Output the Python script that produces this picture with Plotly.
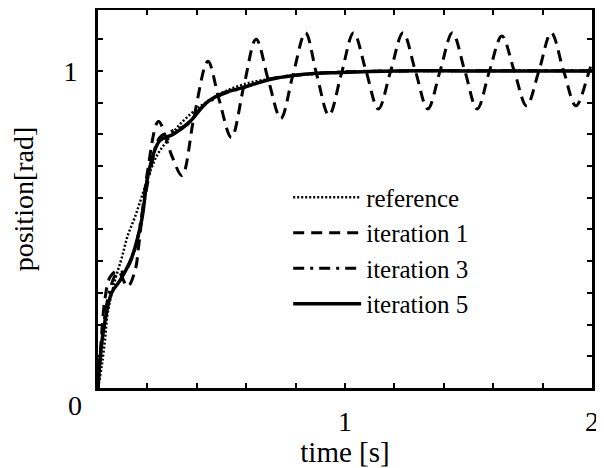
import plotly.graph_objects as go

# ---- data ----
t_ref = [0, 0.015, 0.028, 0.04, 0.069, 0.096, 0.12, 0.15, 0.18, 0.21, 0.24, 0.28, 0.33, 0.4, 0.5, 0.6, 0.7, 0.8, 0.9, 1.0, 1.2, 1.5, 2.0]
y_ref = [0, 0.07, 0.15, 0.24, 0.34, 0.41, 0.48, 0.54, 0.61, 0.68, 0.735, 0.78, 0.83, 0.88, 0.93, 0.96, 0.975, 0.985, 0.992, 0.996, 0.999, 1.0, 1.0]

t_it1 = [0, 0.012, 0.028, 0.049, 0.08, 0.12, 0.15, 0.165, 0.2, 0.245, 0.30, 0.34, 0.39, 0.445, 0.49, 0.54, 0.59, 0.64, 0.69, 0.74,
         0.79, 0.84, 0.885, 0.935, 0.985, 1.035, 1.085, 1.135, 1.185, 1.235, 1.285, 1.335, 1.385, 1.435, 1.485, 1.535,
         1.585, 1.635, 1.685, 1.735, 1.785, 1.835, 1.885, 1.935, 1.985, 2.0]
y_it1 = [0, 0.14, 0.28, 0.35, 0.37, 0.32, 0.37, 0.45, 0.68, 0.84, 0.73, 0.67, 0.86, 1.03, 0.91, 0.79, 0.95, 1.10, 0.97, 0.85,
         0.99, 1.12, 0.99, 0.86, 0.99, 1.12, 1.0, 0.88, 1.0, 1.12, 1.0, 0.88, 1.0, 1.12, 1.0, 0.88,
         1.0, 1.11, 1.0, 0.89, 1.0, 1.12, 1.0, 0.89, 0.99, 1.03]

t_it3 = [0, 0.02, 0.045, 0.075, 0.11, 0.15, 0.185, 0.215, 0.25, 0.3, 0.36, 0.42, 0.5, 0.6, 0.7, 0.85, 1.0, 1.3, 2.0]
y_it3 = [0, 0.18, 0.30, 0.36, 0.37, 0.44, 0.58, 0.70, 0.79, 0.81, 0.83, 0.885, 0.925, 0.95, 0.975, 0.99, 0.997, 1.0, 1.0]

t_it5 = [0, 0.012, 0.028, 0.055, 0.09, 0.136, 0.177, 0.204, 0.25, 0.305, 0.372, 0.44, 0.507, 0.575, 0.71, 0.845, 0.98, 1.2, 1.5, 2.0]
y_it5 = [0, 0.12, 0.21, 0.30, 0.34, 0.41, 0.53, 0.677, 0.78, 0.80, 0.84, 0.90, 0.93, 0.945, 0.975, 0.99, 0.995, 1.0, 1.0, 1.0]

names = ["reference", "iteration 1", "iteration 3", "iteration 5"]

x_ticks = [0, 0.2, 0.4, 0.6, 0.8, 1.0, 1.2, 1.4, 1.6, 1.8, 2.0]
x_ticklabels = ["", "", "", "", "", "1", "", "", "", "", "2"]
y_ticks = [0, 0.1, 0.2, 0.3, 0.4, 0.5, 0.6, 0.7, 0.8, 0.9, 1.0, 1.1]
y_ticklabels = ["", "", "", "", "", "", "", "", "", "", "1", ""]
corner_label = "0"

FONT = "Liberation Serif, Times New Roman, serif"

fig = go.Figure()
fig.add_trace(go.Scatter(x=t_ref, y=y_ref, name=names[0], mode="lines", line_shape="spline", legendgroup="a",
                         line=dict(color="black", width=2.5, dash="2px,2px")))
fig.add_trace(go.Scatter(x=t_it1, y=y_it1, name=names[1], mode="lines", line_shape="spline", legendgroup="b",
                         line=dict(color="black", width=3, dash="11px,7px")))
fig.add_trace(go.Scatter(x=t_it3, y=y_it3, name=names[2], mode="lines", line_shape="spline", legendgroup="c",
                         line=dict(color="black", width=3, dash="11px,6px,3px,6px")))
fig.add_trace(go.Scatter(x=t_it5, y=y_it5, name=names[3], mode="lines", line_shape="spline", legendgroup="d",
                         line=dict(color="black", width=3.5)))

# shared "0" label at the lower-left corner
fig.add_annotation(text=corner_label, x=-0.047, y=-0.045, xref="paper", yref="paper", showarrow=False,
                   xanchor="center", yanchor="middle",
                   font=dict(family=FONT, size=28, color="black"))

fig.update_layout(
    width=596, height=460,
    margin=dict(l=90, r=12, t=2, b=80, autoexpand=False),
    paper_bgcolor="white", plot_bgcolor="white",
    font=dict(family=FONT, size=28, color="black"),
    showlegend=True,
    legend=dict(x=0.385, y=0.565, xanchor="left", yanchor="top", bgcolor="rgba(0,0,0,0)",
                font=dict(family=FONT, size=25, color="black"), itemwidth=68,
                traceorder="grouped", tracegroupgap=0),
    xaxis=dict(range=[0, 2], tickvals=x_ticks, ticktext=x_ticklabels, ticks="inside", ticklen=5,
               tickwidth=2, tickcolor="black", showline=True, linecolor="black", linewidth=3, mirror="ticks",
               showgrid=False, zeroline=False, tickfont=dict(size=28), ticklabelstandoff=6,
               title=dict(text="time [s]", font=dict(size=29), standoff=2)),
    yaxis=dict(range=[0, 1.192], tickvals=y_ticks, ticktext=y_ticklabels, ticks="inside", ticklen=5,
               tickwidth=2, tickcolor="black", showline=True, linecolor="black", linewidth=3, mirror="ticks",
               showgrid=False, zeroline=False, tickfont=dict(size=28), ticklabelstandoff=12,
               title=dict(text="position[rad]", font=dict(size=28), standoff=24)),
)
fig.write_html("out.html")
